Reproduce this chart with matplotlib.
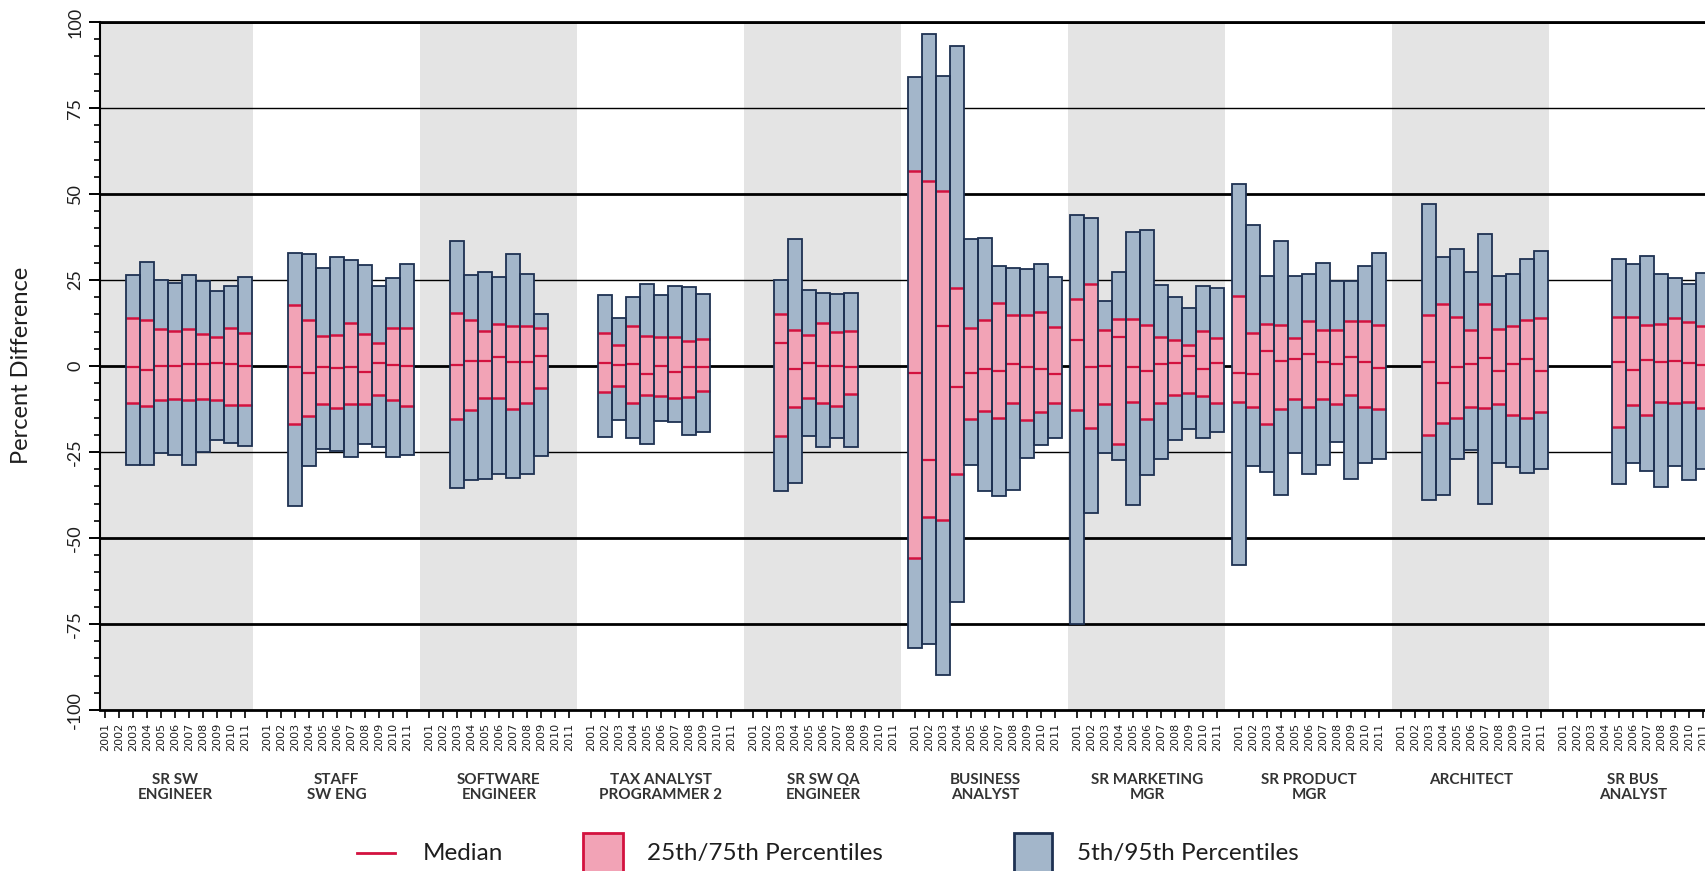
import matplotlib
matplotlib.use("Agg")
import matplotlib.pyplot as plt
from matplotlib import transforms
from matplotlib.patches import Rectangle
from matplotlib.lines import Line2D
from matplotlib.ticker import MultipleLocator

plt.rcParams['font.family'] = ['Lato', 'DejaVu Sans']
plt.rcParams['axes.unicode_minus'] = False

# ---------------------------------------------------------------- data
categories = [
    "SR SW\nENGINEER", "STAFF\nSW ENG", "SOFTWARE\nENGINEER",
    "TAX ANALYST\nPROGRAMMER 2", "SR SW QA\nENGINEER", "BUSINESS\nANALYST",
    "SR MARKETING\nMGR", "SR PRODUCT\nMGR", "ARCHITECT", "SR BUS\nANALYST",
]
years = list(range(2001, 2012))
# first year with data for each job title
first_year = [2003, 2003, 2003, 2002, 2003, 2001, 2001, 2001, 2003, 2005]

p95 = [
    [26.4, 30.2, 25.0, 24.2, 26.4, 24.7, 21.7, 23.4, 25.8],
    [32.9, 32.7, 28.6, 31.7, 30.7, 29.5, 23.4, 25.6, 29.7],
    [36.4, 26.4, 27.4, 25.8, 32.7, 26.8, 15.1],
    [20.6, 14.1, 20.1, 23.8, 20.6, 23.2, 23.0, 20.9],
    [25.1, 36.8, 22.1, 21.3, 20.9, 21.3],
    [83.9, 96.6, 84.3, 93.1, 37.0, 37.2, 29.2, 28.5, 28.3, 29.6, 25.9],
    [44.0, 43.1, 18.9, 27.4, 39.0, 39.5, 23.7, 20.1, 16.9, 23.2, 22.7],
    [52.8, 40.9, 26.3, 36.3, 26.3, 26.9, 30.0, 24.7, 24.7, 29.2, 32.9],
    [47.1, 31.7, 34.0, 27.2, 38.3, 26.3, 26.7, 31.1, 33.5],
    [31.2, 29.7, 32.0, 26.7, 25.5, 23.8, 27.0],
]
p75 = [
    [13.9, 13.3, 10.8, 10.2, 10.8, 9.3, 8.3, 11.0, 9.6],
    [17.8, 13.3, 8.8, 9.1, 12.5, 9.4, 6.6, 11.0, 11.2],
    [15.4, 13.5, 10.2, 12.2, 11.5, 11.5, 11.0],
    [9.7, 6.1, 11.6, 8.8, 8.5, 8.5, 7.4, 8.0],
    [15.0, 10.6, 9.0, 12.4, 10.0, 10.2],
    [56.7, 53.8, 51.0, 22.7, 11.0, 13.4, 18.2, 14.7, 14.7, 15.6, 11.3],
    [19.6, 23.9, 10.6, 13.6, 13.6, 11.9, 8.5, 7.5, 6.1, 10.2, 8.2],
    [20.5, 9.5, 12.1, 11.8, 8.2, 13.1, 10.6, 10.4, 13.1, 13.1, 11.9],
    [14.9, 18.1, 14.4, 10.5, 18.0, 10.8, 11.7, 13.4, 14.1],
    [14.2, 14.2, 11.9, 12.2, 14.1, 12.7, 11.7],
]
p50 = [
    [-0.2, -1.2, 0.0, 0.0, 0.6, 0.6, 0.8, 0.6, 0.0],
    [-0.2, -1.9, -0.4, -0.7, -0.4, -1.7, 1.0, 0.3, 0.0],
    [0.3, 1.5, 1.5, 2.7, 1.3, 1.3, 2.9],
    [1.0, 0.3, 0.6, -2.3, 0.0, -1.6, -0.4, -0.4],
    [6.8, -1.0, 1.0, 0.0, 0.0, -0.4],
    [-1.9, -27.2, 11.7, -6.2, -1.9, -1.0, -1.3, 0.6, -0.4, -1.0, -2.3],
    [7.7, -0.3, 0.0, 8.4, -0.3, -1.3, 0.5, 1.0, 2.9, -1.0, 1.0],
    [-1.9, -2.4, 4.4, 1.6, 2.0, 3.4, 1.2, 0.5, 2.7, 1.3, -0.5],
    [1.3, -4.8, -0.4, 0.5, 2.2, -1.4, 0.5, 2.0, -1.4],
    [1.3, -1.2, 1.7, 1.3, 1.5, 1.0, 0.3],
]
p25 = [
    [-10.7, -11.6, -9.9, -9.5, -9.9, -9.5, -9.9, -11.4, -11.2],
    [-16.8, -14.5, -11.1, -12.2, -10.9, -10.9, -8.5, -9.9, -11.7],
    [-15.5, -12.9, -9.2, -9.2, -12.6, -10.7, -6.5],
    [-7.6, -5.8, -10.6, -8.4, -8.7, -9.2, -8.9, -7.2],
    [-20.3, -11.8, -9.4, -10.8, -11.6, -8.2],
    [-55.8, -44.0, -44.7, -31.5, -15.3, -13.2, -15.2, -10.8, -15.8, -13.4, -10.8],
    [-12.9, -17.9, -10.9, -22.7, -10.4, -15.3, -10.6, -8.5, -7.7, -8.7, -10.6],
    [-10.5, -11.8, -16.9, -12.6, -9.7, -11.8, -9.7, -11.1, -8.5, -11.8, -12.4],
    [-20.1, -16.7, -15.0, -11.8, -12.1, -10.9, -14.3, -15.2, -13.5],
    [-17.7, -11.4, -14.1, -10.4, -10.7, -10.4, -12.3],
]
p05 = [
    [-28.9, -28.8, -25.3, -26.0, -28.9, -24.9, -21.6, -22.3, -23.1],
    [-40.6, -29.2, -24.1, -24.6, -26.3, -22.6, -23.6, -26.3, -25.8],
    [-35.5, -33.0, -32.8, -31.4, -32.6, -31.4, -26.2],
    [-20.5, -15.7, -21.0, -22.7, -16.0, -16.3, -20.0, -19.2],
    [-36.2, -34.0, -20.3, -23.4, -21.0, -23.4],
    [-82.1, -80.8, -89.9, -68.7, -28.9, -36.3, -37.9, -35.9, -26.6, -23.0, -20.8],
    [-75.0, -42.8, -25.2, -27.4, -40.5, -31.7, -27.1, -21.6, -18.4, -20.8, -19.2],
    [-57.9, -29.0, -30.8, -37.6, -25.2, -31.5, -28.8, -22.1, -32.9, -28.1, -27.1],
    [-39.0, -37.6, -26.9, -24.5, -40.0, -28.3, -29.3, -31.1, -29.8],
    [-34.4, -28.3, -30.6, -35.1, -29.1, -33.2, -30.0],
]

# ---------------------------------------------------------------- style
BLUE = '#a3b6ca'
BLUE_EDGE = '#1e3152'
PINK = '#f2a3b6'
RED = '#d3123f'
BAND = '#e4e4e4'
TEXT = '#1e1e1e'

PERIOD = 11.571   # width of one job-title block, in year slots
OFFSET = 0.35     # position of the first year slot inside a block

fig = plt.figure(figsize=(17.06, 8.71), dpi=100)
ax = fig.add_axes([0.0586, 0.1848, 0.9414, 0.7899])
ax.set_xlim(0, 114.71)
ax.set_ylim(-100, 100)

# alternating shaded blocks
for g in range(0, len(categories), 2):
    ax.axvspan(g * PERIOD - 0.25, g * PERIOD + 10.95, color=BAND, lw=0, zorder=0)

# reference lines
for y in (75, 25, -25):
    ax.axhline(y, color='black', lw=1.0, zorder=1)
for y in (100, 50, 0, -50, -75):
    ax.axhline(y, color='black', lw=2.0, zorder=1)

tick_pos, tick_lab = [], []
for g in range(len(categories)):
    for s, yr in enumerate(years):
        tick_pos.append(g * PERIOD + OFFSET + s)
        tick_lab.append(str(yr))

    start = first_year[g] - years[0]
    xs = [g * PERIOD + OFFSET + start + i for i in range(len(p95[g]))]
    outer_h = [h - l for h, l in zip(p95[g], p05[g])]
    inner_h = [h - l for h, l in zip(p75[g], p25[g])]
    left = [x - 0.5 for x in xs]
    right = [x + 0.5 for x in xs]

    ax.bar(xs, outer_h, bottom=p05[g], width=1.0, color=BLUE, lw=0, zorder=2)
    ax.bar(xs, inner_h, bottom=p25[g], width=1.0, color=PINK, lw=0, zorder=3)
    ax.hlines(p25[g], left, right, color=RED, lw=1.8, zorder=4)
    ax.hlines(p75[g], left, right, color=RED, lw=1.8, zorder=4)
    ax.hlines(p50[g], left, right, color=RED, lw=1.6, zorder=4)
    ax.bar(xs, outer_h, bottom=p05[g], width=1.0, facecolor='none',
           edgecolor=BLUE_EDGE, lw=1.3, zorder=5)

# axes styling
ax.set_xticks(tick_pos)
ax.set_xticklabels(tick_lab, rotation=90, fontsize=8, family='DejaVu Sans', color=TEXT)
ax.tick_params(axis='x', direction='out', length=6, width=1.2, pad=3)

ax.yaxis.set_major_locator(MultipleLocator(25))
ax.yaxis.set_minor_locator(MultipleLocator(5))
ax.tick_params(axis='y', which='major', direction='out', length=8, width=1.4,
               labelsize=13, pad=4, labelcolor=TEXT)
ax.tick_params(axis='y', which='minor', direction='out', length=4, width=1.2)
for lab in ax.get_yticklabels():
    lab.set_rotation(90)
    lab.set_va('center')

ax.spines['right'].set_visible(False)
ax.spines['left'].set_linewidth(1.5)
ax.spines['bottom'].set_linewidth(2.0)
ax.spines['top'].set_linewidth(2.0)

fig.text(22 / 1706, 0.58, "Percent Difference", rotation=90, ha='center',
         va='center', fontsize=17, color=TEXT)

# job-title captions under the year labels
blend = transforms.blended_transform_factory(ax.transData, fig.transFigure)
for g, cat in enumerate(categories):
    ax.text(g * PERIOD + OFFSET + 5, 1 - 773 / 871, cat, transform=blend,
            ha='center', va='top', fontsize=11, fontweight='bold',
            color='#333333', linespacing=1.1)

# legend row
ly = 1 - 853 / 871
fig.add_artist(Line2D([357 / 1706, 395 / 1706], [ly, ly], color=RED, lw=2,
                      transform=fig.transFigure))
fig.text(423 / 1706, ly, "Median", va='center', fontsize=17.5, color=TEXT)
fig.add_artist(Rectangle((583 / 1706, 1 - 873 / 871), 40 / 1706, 40 / 871,
                         facecolor=PINK, edgecolor=RED, lw=2,
                         transform=fig.transFigure))
fig.text(647 / 1706, ly, "25th/75th Percentiles", va='center', fontsize=17.5, color=TEXT)
fig.add_artist(Rectangle((1014 / 1706, 1 - 873 / 871), 38 / 1706, 40 / 871,
                         facecolor=BLUE, edgecolor=BLUE_EDGE, lw=2,
                         transform=fig.transFigure))
fig.text(1077 / 1706, ly, "5th/95th Percentiles", va='center', fontsize=17.5, color=TEXT)

fig.savefig("out.png", dpi=100)
